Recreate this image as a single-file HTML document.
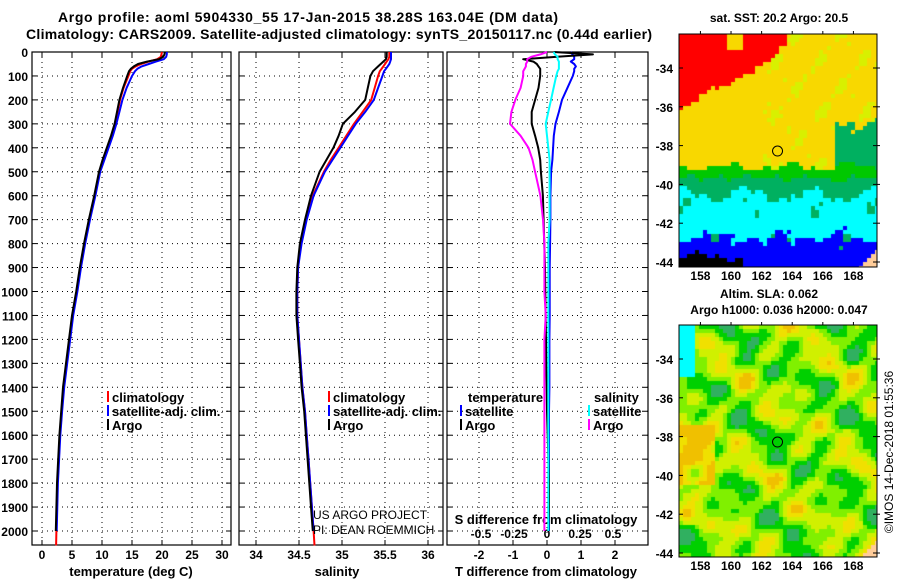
<!DOCTYPE html>
<html><head><meta charset="utf-8"><style>
body{margin:0;background:#fff;}
#wrap{position:relative;width:900px;height:580px;overflow:hidden;background:#fff;}
canvas{position:absolute;}
svg{position:absolute;left:0;top:0;}
text{font-family:"Liberation Sans",sans-serif;font-weight:bold;fill:#000;}
</style></head><body>
<div id="wrap">
<canvas id="sst" width="198" height="233" style="left:679px;top:34px"></canvas>
<canvas id="sla" width="198" height="232" style="left:679px;top:325px"></canvas>
<svg id="svg" width="900" height="580" xmlns="http://www.w3.org/2000/svg">
<text x="308" y="22" font-size="14" text-anchor="middle" textLength="500">Argo profile: aoml 5904330_55 17-Jan-2015 38.28S 163.04E (DM data)</text>
<text x="339" y="39" font-size="14" text-anchor="middle" textLength="626">Climatology: CARS2009. Satellite-adjusted climatology: synTS_20150117.nc (0.44d earlier)</text>
<g id="g"></g>
</svg>
</div>
<script>
// ---- data ----
const depths=[0,10,20,30,40,50,60,70,80,100,150,200,250,300,350,400,450,500,600,700,800,900,1000,1100,1200,1300,1400,1500,1600,1700,1800,1900,2000,2060];
const argoT=[20.5,20.4,20.2,19.5,17.5,16.0,15.3,14.8,14.5,14.2,13.5,12.9,12.5,12.1,11.5,10.8,10.1,9.5,8.7,7.8,7.0,6.3,5.7,5.0,4.5,4.0,3.5,3.2,2.9,2.7,2.5,2.4,2.3,null];
const climT=[20.0,19.9,19.8,19.2,17.8,16.5,15.6,15.0,14.7,14.4,13.6,13.0,12.6,12.2,11.6,10.9,10.2,9.6,8.8,7.9,7.1,6.4,5.8,5.1,4.6,4.1,3.6,3.3,3.0,2.8,2.6,2.5,2.4,2.35];
const satT=[20.8,20.8,20.7,20.3,19.0,17.8,16.6,15.9,15.5,15.0,14.1,13.4,12.9,12.4,11.8,11.1,10.4,9.7,8.9,8.0,7.2,6.5,5.9,5.2,4.7,4.2,3.7,3.35,3.05,2.85,2.65,2.55,2.45,null];
const argoS=[35.52,35.52,35.52,35.51,35.48,35.45,35.42,35.39,35.36,35.33,35.3,35.27,35.15,35.01,34.96,34.9,34.82,34.74,34.64,34.57,34.51,34.48,34.47,34.47,34.49,34.51,34.53,34.56,34.58,34.6,34.62,34.64,34.66,null];
const climS=[35.55,35.55,35.55,35.54,35.52,35.5,35.48,35.46,35.44,35.42,35.38,35.34,35.24,35.14,35.05,34.96,34.87,34.79,34.66,34.58,34.52,34.49,34.48,34.48,34.5,34.52,34.54,34.57,34.59,34.61,34.63,34.65,34.67,34.68];
const satS=[35.57,35.57,35.57,35.57,35.56,35.55,35.53,35.51,35.49,35.47,35.42,35.37,35.27,35.16,35.07,34.98,34.89,34.8,34.67,34.59,34.53,34.49,34.48,34.48,34.5,34.52,34.54,34.57,34.59,34.61,34.63,34.65,34.67,null];
const satTd=[0.7,0.75,0.8,0.8,0.7,0.8,0.85,0.8,0.8,0.76,0.6,0.44,0.35,0.25,0.2,0.18,0.16,0.12,0.1,0.1,0.09,0.08,0.08,0.08,0.07,0.07,0.07,0.06,0.06,0.06,0.06,0.06,0.06,null];
const argoTd=[0.2,1.35,0.3,-0.7,-0.4,-0.3,-0.25,-0.2,-0.2,-0.2,-0.25,-0.35,-0.45,-0.45,-0.35,-0.26,-0.2,-0.18,-0.12,-0.1,-0.08,-0.06,-0.05,-0.04,-0.03,-0.02,-0.01,0.0,0.02,0.04,0.06,0.06,0.04,null];
const satSd=[0.05,0.06,0.08,0.08,0.09,0.09,0.09,0.09,0.08,0.07,0.05,0.03,0.01,-0.01,0.0,0.01,0.02,0.02,0.02,0.02,0.01,0.01,0.01,0.01,0.01,0.01,0.01,0.01,0.01,0.01,0.01,0.01,0.01,null];
const argoSd=[0.0,-0.05,-0.12,-0.15,-0.15,-0.16,-0.16,-0.17,-0.18,-0.18,-0.2,-0.24,-0.27,-0.28,-0.2,-0.14,-0.11,-0.09,-0.05,-0.03,-0.02,-0.02,-0.02,-0.01,-0.02,-0.02,-0.02,-0.02,-0.02,-0.02,-0.02,-0.02,-0.02,null];
const depthTicks=[0,100,200,300,400,500,600,700,800,900,1000,1100,1200,1300,1400,1500,1600,1700,1800,1900,2000];
const tempTicks=[0,5,10,15,20,25,30];
const salTicks=[34,34.5,35,35.5,36];
const tdTicks=[-2,-1,0,1,2];
const sdTicks=[-0.5,-0.25,0,0.25,0.5];
const latTicks=[-34,-36,-38,-40,-42,-44];
const lonTicks=[158,160,162,164,166,168];
const argoLat=-38.28, argoLon=163.04;

// ---- scales ----
const Y=d=>52+d*0.2395;
const XT=t=>42+6*t;
const XS=s=>256+(s-34)*86;
const XTd=t=>547+34*t;
const XSd=s=>547+132*s;
const PB=545;
const panels=[{l:32,r:231,n:'temperature'},{l:239,r:443,n:'salinity'},{l:447,r:648,n:'difference'}];
const mLon=lo=>679+(lo-156.6)*15.3;
const mLat=la=>68+(-34-la)*19.4;

const NS='http://www.w3.org/2000/svg';
const g=document.getElementById('g');
function el(tag,attrs,parent){const e=document.createElementNS(NS,tag);for(const k in attrs)e.setAttribute(k,attrs[k]);(parent||g).appendChild(e);return e;}
function txt(x,y,s,size,anchor,parent){const t=el('text',{x:x,y:y,'font-size':size,'text-anchor':anchor||'middle'},parent);t.textContent=s;return t;}

panels.forEach((p,i)=>{
  const pg=el('g',{});
  
  
  depthTicks.forEach(d=>{
    el('line',{x1:p.l,x2:p.r,y1:Y(d),y2:Y(d),stroke:'#000','stroke-dasharray':'1,4','stroke-width':1},pg);
    el('line',{x1:p.l,x2:p.l+5,y1:Y(d),y2:Y(d),stroke:'#000'},pg);
    el('line',{x1:p.r-5,x2:p.r,y1:Y(d),y2:Y(d),stroke:'#000'},pg);
  });
  const vt = i===0?tempTicks.map(XT):i===1?salTicks.map(XS):tdTicks.map(XTd);
  vt.forEach(x=>{
    el('line',{x1:x,x2:x,y1:52,y2:PB,stroke:'#000','stroke-dasharray':'1,4'},pg);
    el('line',{x1:x,x2:x,y1:PB-5,y2:PB,stroke:'#000'},pg);
    el('line',{x1:x,x2:x,y1:52,y2:57,stroke:'#000'},pg);
  });
  el('rect',{x:p.l,y:52,width:p.r-p.l,height:PB-52,fill:'none',stroke:'#000','stroke-width':1.2},pg);
});
depthTicks.forEach(d=>{const t=txt(28,Y(d)+5,String(d),12,'end');});
tempTicks.forEach(v=>{const t=txt(XT(v),559,String(v),12);});
salTicks.forEach(v=>{const t=txt(XS(v),559,String(v),12);});
tdTicks.forEach(v=>{const t=txt(XTd(v),559,String(v),12);});
sdTicks.forEach(v=>{const t=txt(XSd(v),538,String(v),12);});
let t;
t=txt(131,576,'temperature (deg C)',13);
t=txt(337,576,'salinity',13);
t=txt(546,576,'T difference from climatology',13);
t=txt(546,524,'S difference from climatology',13);

function series(vals,xf,color,name,w){
  let d='';let started=false;
  vals.forEach((v,i)=>{if(v===null)return;d+=(started?'L':'M')+xf(v).toFixed(1)+' '+Y(depths[i]).toFixed(1);started=true;});
  const p=el('path',{d:d,fill:'none',stroke:color,'stroke-width':w||2,'stroke-linejoin':'round'});
  
  
}
series(climT,XT,'#f00','temp-climatology-line');
series(satT,XT,'#00f','temp-satellite-line');
series(argoT,XT,'#000','temp-argo-line');
series(climS,XS,'#f00','sal-climatology-line');
series(satS,XS,'#00f','sal-satellite-line');
series(argoS,XS,'#000','sal-argo-line');
series(satTd,XTd,'#00f','tdiff-satellite-line');
series(argoTd,XTd,'#000','tdiff-argo-line');
series(argoSd,XSd,'#f0f','sdiff-argo-line');
series(satSd,XSd,'#0ff','sdiff-satellite-line');

function legend(x,y,color,label,name){
  const lg=el('g',{});
  
  
  el('rect',{x:x,y:y-11,width:2,height:11,fill:color},lg);
  txt(x+5,y,label,13,'start',lg);
}
legend(107,402,'#f00','climatology','legend-climatology');
legend(107,416,'#00f','satellite-adj. clim.','legend-satellite-temp');
legend(107,430,'#000','Argo','legend-argo-temp');
legend(328,402,'#f00','climatology','legend-climatology-sal');
legend(328,416,'#00f','satellite-adj. clim.','legend-satellite-sal');
legend(328,430,'#000','Argo','legend-argo-sal');
t=txt(468,402,'temperature',13,'start');
t=txt(594,402,'salinity',13,'start');
legend(460,416,'#00f','satellite','legend-tdiff-satellite');
legend(460,430,'#000','Argo','legend-tdiff-argo');
legend(588,416,'#0ff','satellite','legend-sdiff-satellite');
legend(588,430,'#f0f','Argo','legend-sdiff-argo');
let c1=txt(313,519,'US ARGO PROJECT',12,'start');c1.style.fontWeight='normal';

let c2=txt(313,534,'PI: DEAN ROEMMICH',12,'start');c2.style.fontWeight='normal';


function mapAxes(top,bot,name){
  const mg=el('g',{});
  
  
  el('rect',{x:679,y:top,width:198,height:bot-top,fill:'none',stroke:'#000'},mg);
  latTicks.forEach(la=>{
    const y=top-34+mLat(la);
    txt(673,y+5,String(la),12,'end',mg);
    el('line',{x1:679,x2:683,y1:y,y2:y,stroke:'#000'},mg);
    el('line',{x1:873,x2:880,y1:y,y2:y,stroke:'#000'},mg);
  });
  lonTicks.forEach(lo=>{
    const x=mLon(lo);
    txt(x,bot+13,String(lo),12,'middle',mg);
    el('line',{x1:x,x2:x,y1:top-3,y2:top,stroke:'#000'},mg);
  });
  el('circle',{cx:mLon(argoLon),cy:top-34+mLat(argoLat),r:5,fill:'none',stroke:'#000'},mg);
}
mapAxes(34,267,'sst-map-axes');
mapAxes(325,557,'sla-map-axes');
t=txt(779,22,'sat. SST: 20.2 Argo: 20.5',12);
t=txt(769,298,'Altim. SLA: 0.062',12);
t=txt(779,314,'Argo h1000: 0.036 h2000: 0.047',12);
t=el('text',{x:0,y:0,'font-size':12,'text-anchor':'middle',transform:'translate(893,452) rotate(-90)'});
t.textContent='©IMOS 14-Dec-2018 01:55:36';t.style.fontWeight='normal';


// ---- decorative map rasters ----
function noise(x,y,s){return Math.sin(x*0.41+s)*Math.cos(y*0.37+s*1.3)+0.5*Math.sin(x*0.93+y*0.71+s*2.1)+0.3*Math.cos(x*1.7-y*1.3+s);}
(function(){
  const cv=document.getElementById('sst').getContext('2d');const cs=4;
  for(let j=0;j<59;j++)for(let i=0;i<50;i++){
    const x=i*cs,y=j*cs;const n=noise(i,j,1)*4;const n2=noise(i,j,3)*4;
    let redB;
    if(i<18) redB=72-i*2.0+n; else if(i<25) redB=36-(i-18)*3.5+n; else if(i<27) redB=6+n; else redB=-10;
    const yb = 131+n2;
    let c;
    if(y<redB && !(i>=12&&i<=15&&j<4)) c='#f00';
    else if(i>38 && y>85+n2*2 && y<yb) c='#00b060';
    else if(y<yb) c=(noise(i*1.3,j*1.3,5)>0.7 && i>20)?'#d8f000':'#f8d800';
    else if(y<142+n) c='#00c800';
    else if(y<160+n*2) c='#00b060';
    else if(y<203+n*2) c=(noise(i,j,7)>1.1?'#00b060':'#00ffff');
    else c='#0000ff';
    if(i<16&&y>220+n2) c='#000';
    if(x+y>410) c='#ffcc99';
    cv.fillStyle=c;cv.fillRect(x,y,cs,cs);
  }
  const cv2=document.getElementById('sla').getContext('2d');
  for(let j=0;j<58;j++)for(let i=0;i<50;i++){
    const x=i*cs,y=j*cs;
    let v=0.7*Math.sin(i*0.47+0.5)*Math.cos(j*0.39+0.7)+0.6*Math.sin(i*0.23-j*0.31+2)+0.4*Math.cos(i*0.71+j*0.53)+0.3*Math.sin(j*0.83-i*0.19);
    if(i<9&&j>24&&j<40) v+=1.6;
    let c;
    if(v<-0.95)c='#30b060';else if(v<-0.35)c='#00d000';else if(v<0.2)c='#80f000';else if(v<0.8)c='#d0f000';else if(v<1.3)c='#f0e000';else c='#f0c000';
    if(i<4&&j<13) c='#00ffff';
    if(x+y>410) c='#ffcc99';
    cv2.fillStyle=c;cv2.fillRect(x,y,cs,cs);
  }
})();
</script>
</body></html>
